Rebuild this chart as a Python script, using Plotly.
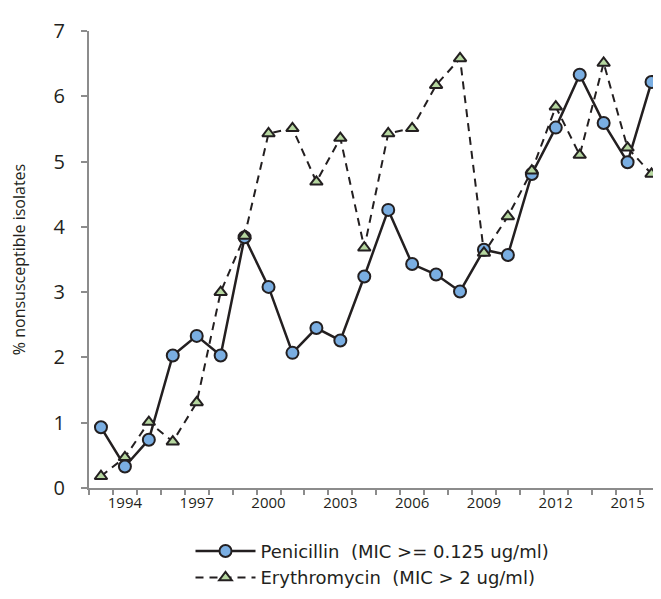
import plotly.graph_objects as go

years = list(range(1993, 2017))
penicillin = [0.93, 0.33, 0.74, 2.03, 2.33, 2.03, 3.84, 3.08, 2.07, 2.45, 2.26, 3.24,
              4.26, 3.43, 3.27, 3.01, 3.65, 3.57, 4.81, 5.52, 6.33, 5.59, 4.99, 6.22]
erythromycin = [0.18, 0.47, 1.01, 0.71, 1.31, 3.00, 3.86, 5.43, 5.51, 4.69, 5.36, 3.68,
                5.43, 5.51, 6.17, 6.58, 3.60, 4.16, 4.86, 5.84, 5.10, 6.51, 5.21, 4.81]
tick_years = [1994, 1997, 2000, 2003, 2006, 2009, 2012, 2015]
y_ticks = [0, 1, 2, 3, 4, 5, 6, 7]

font_family = "Open Sans, DejaVu Sans, sans-serif"
dark = "#231f20"

fig = go.Figure()
fig.add_trace(go.Scatter(
    x=years, y=penicillin, mode="lines+markers",
    name="Penicillin\u00a0\u00a0(MIC >= 0.125 ug/ml)",
    line=dict(color=dark, width=2.5),
    marker=dict(symbol="circle", size=12, color="#7aaee2",
                line=dict(color=dark, width=2)),
    cliponaxis=False,
))
fig.add_trace(go.Scatter(
    x=years, y=erythromycin, mode="lines+markers",
    name="Erythromycin\u00a0\u00a0(MIC > 2 ug/ml)",
    line=dict(color=dark, width=2, dash="8px,6px"),
    marker=dict(symbol="triangle-up", size=11, color="#b6d7a0",
                line=dict(color=dark, width=2)),
    cliponaxis=False,
))

fig.update_layout(
    width=661, height=599,
    margin=dict(l=81, r=0, t=23, b=119, autoexpand=False),
    paper_bgcolor="white", plot_bgcolor="white",
    font=dict(family=font_family, color=dark),
    showlegend=True,
    legend=dict(x=0.175, y=-0.098, xanchor="left", yanchor="top",
                orientation="v",
                font=dict(size=18, color=dark, family="DejaVu Sans, sans-serif"),
                itemwidth=60,
                bgcolor="rgba(0,0,0,0)", tracegroupgap=0),
    xaxis=dict(
        range=[1992.5, 2016.73], automargin=False,
        tickvals=tick_years, ticktext=[str(t) for t in tick_years],
        ticks="", showgrid=False, zeroline=False,
        showline=True, linecolor="#8c8c8c", linewidth=2,
        tickfont=dict(size=15, color=dark),
        minor=dict(tick0=1992.5, dtick=1, ticks="outside", ticklen=5,
                   tickcolor="#8c8c8c", tickwidth=1.5, showgrid=False),
    ),
    yaxis=dict(
        range=[0, 7], tickvals=y_ticks, automargin=False,
        ticks="outside", ticklen=6, tickcolor="#8c8c8c", tickwidth=2,
        ticklabelstandoff=12,
        showgrid=False, zeroline=False,
        showline=True, linecolor="#8c8c8c", linewidth=2,
        tickfont=dict(size=20, color=dark),
        title=dict(text="% nonsusceptible isolates", font=dict(size=16, color=dark),
                   standoff=24),
    ),
)

fig.write_html("out.html")
